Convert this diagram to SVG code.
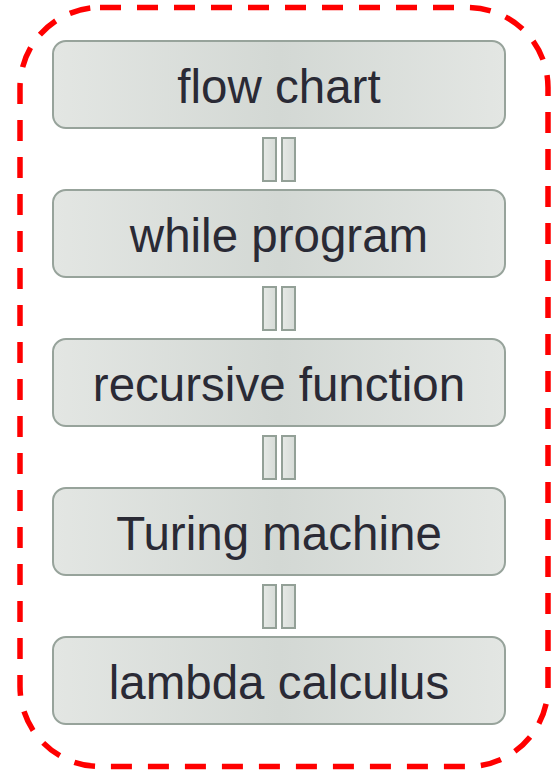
<svg xmlns="http://www.w3.org/2000/svg" width="559" height="771" viewBox="0 0 559 771">
<defs>
<linearGradient id="bg" x1="0" y1="0" x2="1" y2="0">
<stop offset="0" stop-color="#e3e6e3"/>
<stop offset="0.5" stop-color="#d3d8d4"/>
<stop offset="1" stop-color="#e3e6e3"/>
</linearGradient>
<linearGradient id="cg" x1="0" y1="0" x2="1" y2="0">
<stop offset="0" stop-color="#e6e9e6"/>
<stop offset="1" stop-color="#d6dbd7"/>
</linearGradient>
</defs>
<style>
.box{fill:url(#bg);stroke:#97a39b;stroke-width:2}
.lbl{font-family:"Liberation Sans",Arial,sans-serif;font-size:47.5px;fill:#2a2a35;text-anchor:middle}
.bar{fill:url(#cg);stroke:#93a097;stroke-width:2}
</style>
<rect x="20" y="7.5" width="528" height="759" rx="80" ry="80" fill="none" stroke="#ff0000" stroke-width="5.5" stroke-dasharray="21 16"/>
<g id="connectors">
<rect class="bar" x="263" y="138" width="13" height="43"/><rect class="bar" x="282" y="138" width="13" height="43"/>
<rect class="bar" x="263" y="287" width="13" height="43"/><rect class="bar" x="282" y="287" width="13" height="43"/>
<rect class="bar" x="263" y="436" width="13" height="43"/><rect class="bar" x="282" y="436" width="13" height="43"/>
<rect class="bar" x="263" y="585" width="13" height="43"/><rect class="bar" x="282" y="585" width="13" height="43"/>
</g>
<g id="n1"><rect class="box" x="53" y="41" width="452" height="87" rx="13"/><text class="lbl" x="279" y="103">flow chart</text></g>
<g id="n2"><rect class="box" x="53" y="190" width="452" height="87" rx="13"/><text class="lbl" x="279" y="252">while program</text></g>
<g id="n3"><rect class="box" x="53" y="339" width="452" height="87" rx="13"/><text class="lbl" x="279" y="401">recursive function</text></g>
<g id="n4"><rect class="box" x="53" y="488" width="452" height="87" rx="13"/><text class="lbl" x="279" y="550">Turing machine</text></g>
<g id="n5"><rect class="box" x="53" y="637" width="452" height="87" rx="13"/><text class="lbl" x="279" y="699">lambda calculus</text></g>
</svg>
